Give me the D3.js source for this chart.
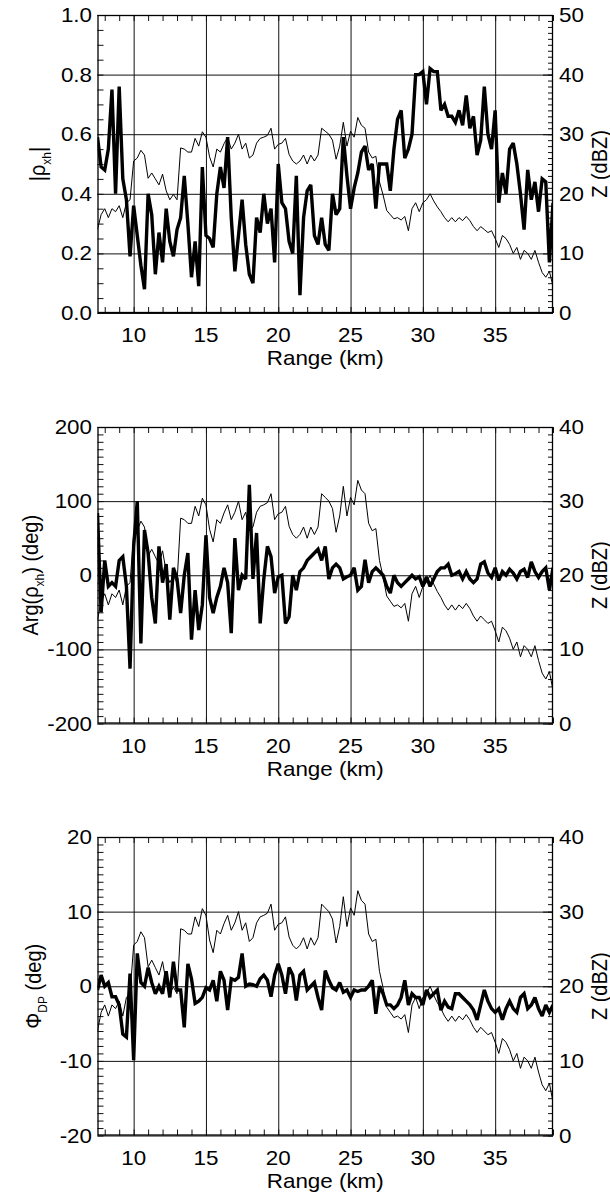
<!DOCTYPE html>
<html><head><meta charset="utf-8">
<script src="https://cdn.jsdelivr.net/npm/d3@7"></script>
<style>
html,body{margin:0;padding:0;background:#fff;}
svg text{font-family:"Liberation Sans", Arial, Helvetica, sans-serif; fill:#000;}
</style></head><body>
<svg id="chart" width="610" height="1194"></svg>
<script>
// ---- data (range gates every 0.25 km starting at 7.5 km) ----
const rangeStart = 7.5, rangeStep = 0.25;
const zDBZ = [14,16.5,17.5,16,17.5,17,18,16,18.5,19,
 25.5,26,27.3,26.5,22.6,23.5,22.5,21.5,23.3,20.5,
 19,19.9,19,27.7,27.5,27,27,29.3,28,30.4,
 29.5,26.2,24.5,27.5,27,28.4,29.5,27.5,28.5,30,
 27.5,28.5,26,26.5,28.5,29.3,29.5,29.8,31,27.5,
 28.3,28.5,29.3,26.6,25.5,25,25.5,26.5,25,26.5,
 25.5,26.5,31,30.5,30,29,25.8,28,32,28,
 30.5,29.5,32.8,31.5,31,27,26,26.3,22,19.8,
 17.2,16.5,15.8,16,15.6,16.2,13.8,17.5,18.5,17,
 18.5,19,20,18.8,17.8,17,16,15.3,16,15.3,
 16,15.5,16.2,15.5,14.5,13.8,14.5,14,13.5,13.8,
 12.5,11,13,12.5,11.5,10,11,9,10.5,10,
 9,10.5,8.5,6.8,6,7,4.5];
const rhoXH = [0.59,0.49,0.48,0.55,0.75,0.40,0.76,0.45,0.38,0.19,
 0.36,0.26,0.16,0.08,0.40,0.33,0.13,0.27,0.17,0.35,
 0.24,0.19,0.28,0.32,0.46,0.30,0.12,0.24,0.09,0.49,
 0.26,0.25,0.22,0.40,0.49,0.42,0.59,0.32,0.14,0.26,
 0.38,0.23,0.13,0.10,0.32,0.27,0.40,0.30,0.35,0.17,
 0.50,
 0.37,0.35,0.24,0.20,0.46,0.06,0.32,0.41,0.43,0.26,
 0.23,0.32,0.23,0.21,0.40,0.33,0.35,0.59,0.46,0.35,
 0.42,0.47,0.54,0.56,0.48,0.50,0.35,0.50,0.50,0.50,
 0.41,0.55,0.65,0.68,0.52,0.55,0.60,0.80,0.80,0.81,
 0.70,0.82,0.81,0.81,0.68,0.70,0.66,0.66,0.64,0.68,
 0.63,0.73,0.62,0.66,0.53,
 0.58,0.76,0.60,0.55,0.68,0.37,0.47,0.40,0.55,0.57,
 0.50,0.40,0.28,0.48,0.38,0.44,0.34,0.45,0.44,0.17,0.37];
const argRhoXH = [84,-50,20,-15,-10,-15,20,25,-15,-126,39,
 100,-92,61,30,-30,-65,39,-10,15,-60,
 10,-5,-51,0,30,-87,-20,-74,-40,54,
 -30,-51,-30,-15,10,-10,-78,50,-20,0,
 -5,122,-5,57,-65,-5,39,25,-24,-2,
 0,-65,-56,0,-20,5,10,20,25,30,
 35,20,39,-5,10,15,10,-5,-2,0,
 10,-20,-15,21,-10,5,10,5,0,-15,
 -24,0,-10,-15,-10,-5,0,-5,-2,-15,
 -2,-15,-5,5,10,10,15,0,2,5,
 -5,5,-5,-10,-5,
 15,18,3,-3,10,-7,5,0,8,3,
 -5,5,8,-3,18,5,-3,5,10,-20,10];
const phiDP = [-0.5,1.5,0,0.5,-1.4,-1.4,-2.5,-6.4,-6.8,1.7,-9.9,
 4.4,0.5,0,2.5,0.5,-1,0,-1,2,-1.5,
 3.3,-0.5,-0.5,-5.5,3.0,1,-2.3,-2,-1.5,-0.2,
 -0.5,0.8,-2,2,0.8,-3.2,1,0.8,1.2,4.4,
 0,0.3,0.2,0,1,1.5,0.8,-1.4,1.5,3.0,
 1.5,-1,2.5,1.5,-1.9,1.5,2.0,-0.5,0,0.5,
 -1.5,-3.2,2.1,0.8,-0.2,-0.5,0.5,-0.8,-0.5,-1.5,
 -0.5,-0.7,-0.5,-0.5,0,0.8,-3.7,0,-1,-2.5,
 -2.5,-3,-2.5,-1.5,0.8,-2.5,-1,-1.5,-1.5,-2.5,
 -0.5,-1.5,-1,-0.5,-3.2,-2.0,-2.8,-3,-1,-1,
 -1.5,-2,-2.5,-3.2,-4.5,
 -2.5,-0.5,-2,-3,-3.5,-3,-4.5,-3,-2,-3,
 -3.5,-1.5,-1,-3,-2.5,-1.5,-3,-4,-2.5,-3.5,-2.5];
const rangeDomain = [7.5, 39];
const rangeTicks = [10,15,20,25,30,35];
const rhoTicks = [0,0.2,0.4,0.6,0.8,1.0];
const argTicks = [-200,-100,0,100,200];
const phiTicks = [-20,-10,0,10,20];
const zTicks50 = [0,10,20,30,40,50];
const zTicks40 = [0,10,20,30,40];

const svg = d3.select('#chart');
const X0 = 97.5, X1 = 553;
const x = d3.scaleLinear().domain(rangeDomain).range([X0, X1]);
const SX = 1.12; // horizontal text stretch
const FS = 20;
const intFmt = v => String(Math.round(v)); // plain hyphen minus, as in the original

const panels = [
  {vals: rhoXH, top: 15, bottom: 313, domain: [0,1], ticks: rhoTicks, fmt: d3.format('.1f'), minor: 0.05,
   zDomain: [0,50], zTicks: zTicks50, labelX: 45, label: [['|ρ',0],['xh',1],['|',0]]},
  {vals: argRhoXH, top: 427, bottom: 723.5, domain: [-200,200], ticks: argTicks, fmt: intFmt, minor: 10,
   zDomain: [0,40], zTicks: zTicks40, labelX: 38, label: [['Arg(ρ',0],['xh',1],[') (deg)',0]]},
  {vals: phiDP, top: 837, bottom: 1135.5, domain: [-20,20], ticks: phiTicks, fmt: intFmt, minor: 1,
   zDomain: [0,40], zTicks: zTicks40, labelX: 41, label: [['Φ',0],['DP',1],[' (deg)',0]]}
];

const rangeOf = i => rangeStart + i * rangeStep;

panels.forEach((p, k) => {
  const y = d3.scaleLinear().domain(p.domain).range([p.bottom, p.top]);
  const yz = d3.scaleLinear().domain(p.zDomain).range([p.bottom, p.top]);
  const H = p.bottom - p.top, W = X1 - X0;
  const g = svg.append('g');
  const clipId = 'clip' + k;
  svg.append('clipPath').attr('id', clipId).append('rect')
    .attr('x', X0).attr('y', p.top).attr('width', W).attr('height', H);

  const style = sel => { sel.select('.domain').remove(); sel.selectAll('line').attr('stroke', '#111').attr('stroke-width', 1); sel.selectAll('text').remove(); };

  // vertical grid lines
  g.append('g').attr('transform', `translate(0,${p.bottom})`)
    .call(d3.axisBottom(x).tickValues(rangeTicks).tickSize(-H)).call(style);
  // horizontal grid lines
  g.append('g').attr('transform', `translate(${X0},0)`)
    .call(d3.axisLeft(y).tickValues(p.ticks).tickSize(-W)).call(style);
  // minor ticks bottom/top
  const kmMinor = d3.range(8, 39.01, 1);
  g.append('g').attr('transform', `translate(0,${p.bottom})`)
    .call(d3.axisBottom(x).tickValues(kmMinor).tickSize(-6)).call(style);
  g.append('g').attr('transform', `translate(0,${p.top})`)
    .call(d3.axisTop(x).tickValues(kmMinor).tickSize(-6)).call(style);
  // minor ticks left
  const lMinor = d3.range(p.domain[0], p.domain[1] + p.minor / 2, p.minor);
  g.append('g').attr('transform', `translate(${X0},0)`)
    .call(d3.axisLeft(y).tickValues(lMinor).tickSize(-6)).call(style);
  // right axis ticks
  const rMinor = d3.range(p.zDomain[0], p.zDomain[1] + 0.5, 1);
  g.append('g').attr('transform', `translate(${X1},0)`)
    .call(d3.axisRight(yz).tickValues(rMinor).tickSize(-5)).call(style);
  g.append('g').attr('transform', `translate(${X1},0)`)
    .call(d3.axisRight(yz).tickValues(p.zTicks).tickSize(-10)).call(style);

  // frame
  g.append('rect').attr('x', X0 + 0.5).attr('y', p.top + 0.5).attr('width', W - 1).attr('height', H - 1)
    .attr('fill', 'none').attr('stroke', '#000').attr('stroke-width', 1.3);

  // Z line (thin)
  const lineZ = d3.line().x((d, i) => x(rangeOf(i))).y(d => yz(d));
  g.append('path').datum(zDBZ).attr('clip-path', `url(#${clipId})`)
    .attr('d', lineZ).attr('fill', 'none').attr('stroke', '#000').attr('stroke-width', 1)
    .attr('stroke-linejoin', 'miter');
  // main variable (thick)
  const lineV = d3.line().x((d, i) => x(rangeOf(i))).y(d => y(d));
  g.append('path').datum(p.vals).attr('clip-path', `url(#${clipId})`)
    .attr('d', lineV).attr('fill', 'none').attr('stroke', '#000').attr('stroke-width', 3.4)
    .attr('stroke-linejoin', 'miter').attr('stroke-miterlimit', 2.5);

  // left tick labels
  p.ticks.forEach(v => {
    g.append('text').attr('transform', `translate(92,${y(v) + 7}) scale(${SX},1)`)
      .attr('text-anchor', 'end').attr('font-size', FS).text(p.fmt(v));
  });
  // right tick labels
  p.zTicks.forEach(v => {
    g.append('text').attr('transform', `translate(559,${yz(v) + 7}) scale(${SX},1)`)
      .attr('text-anchor', 'start').attr('font-size', FS).text(v);
  });
  // bottom tick labels
  rangeTicks.forEach(v => {
    g.append('text').attr('transform', `translate(${x(v)},${p.bottom + 29}) scale(${SX},1)`)
      .attr('text-anchor', 'middle').attr('font-size', FS).text(v);
  });
  // x title
  g.append('text').attr('transform', `translate(${(X0 + X1) / 2},${p.bottom + 52}) scale(${SX},1)`)
    .attr('text-anchor', 'middle').attr('font-size', FS).text('Range (km)');
  // left title
  const cy = (p.top + p.bottom) / 2;
  const lt = g.append('text').attr('transform', `translate(${p.labelX},${cy}) scale(${SX},1) rotate(-90)`)
    .attr('text-anchor', 'middle').attr('font-size', FS);
  let shifted = false;
  p.label.forEach(([s, sub]) => {
    const t = lt.append('tspan').text(s);
    if (sub && !shifted) { t.attr('font-size', 12).attr('dy', 5); shifted = true; }
    else if (!sub && shifted) { t.attr('dy', -5); shifted = false; }
  });
  // right title
  g.append('text').attr('transform', `translate(607,${cy}) scale(${SX},1) rotate(-90)`)
    .attr('text-anchor', 'middle').attr('font-size', FS).text('Z (dBZ)');
});
</script>
</body></html>
